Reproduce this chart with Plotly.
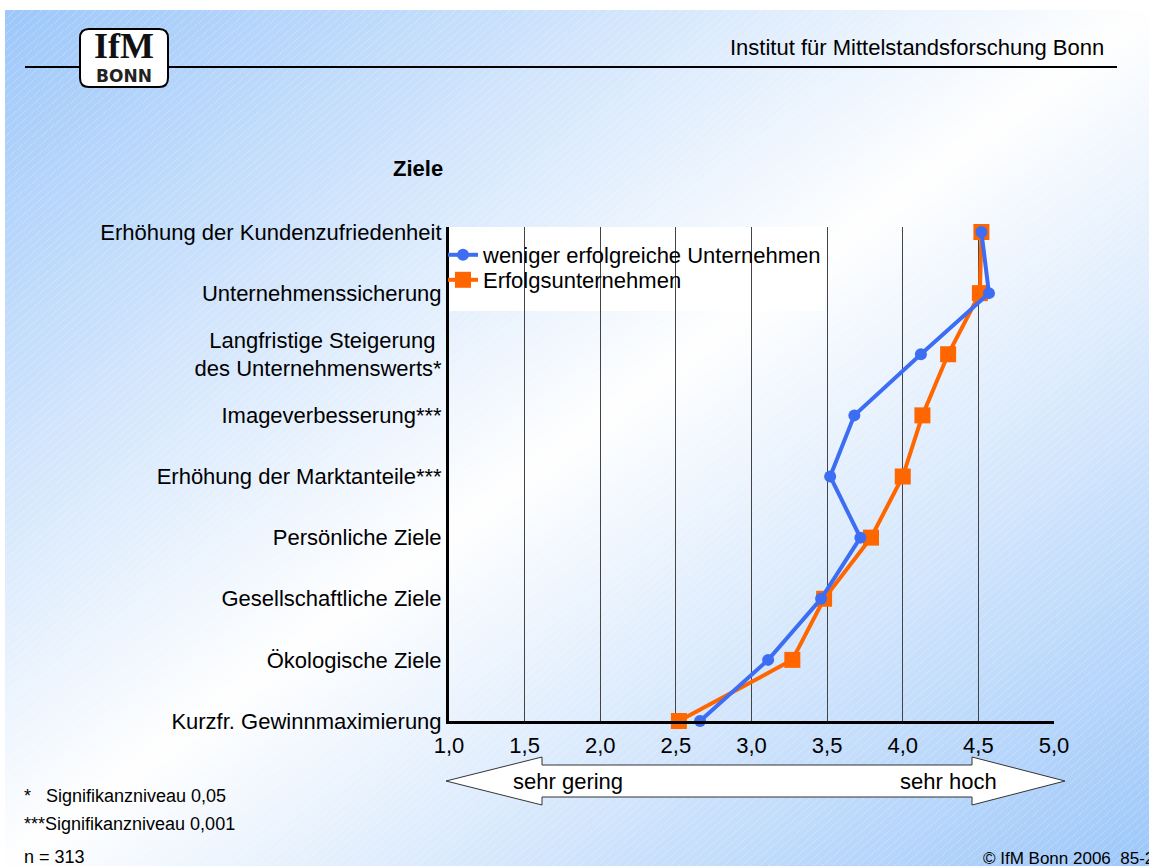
import base64
import struct
import zlib

import numpy as np
import plotly.graph_objects as go

# ---- data -------------------------------------------------------------
goals = [
    "Erhöhung der Kundenzufriedenheit",
    "Unternehmenssicherung",
    "Langfristige Steigerung <br>des Unternehmenswerts*",
    "Imageverbesserung***",
    "Erhöhung der Marktanteile***",
    "Persönliche Ziele",
    "Gesellschaftliche Ziele",
    "Ökologische Ziele",
    "Kurzfr. Gewinnmaximierung",
]
less_successful = [4.52, 4.57, 4.12, 3.68, 3.52, 3.72, 3.46, 3.11, 2.66]
successful = [4.52, 4.51, 4.30, 4.13, 4.00, 3.79, 3.48, 3.27, 2.52]
series_names = ["weniger erfolgreiche Unternehmen", "Erfolgsunternehmen"]
x_ticks = [1.0, 1.5, 2.0, 2.5, 3.0, 3.5, 4.0, 4.5, 5.0]

# ---- page geometry (pixels) --------------------------------------------
W, H = 1149, 866
L, R, T, B = 449, 1054, 227, 721
PW, PH = R - L, B - T
FONT = "Liberation Sans, Arial, sans-serif"
BLUE = "#3d6df2"
ORANGE = "#ff6600"


def px(x):
    return (x - L) / PW


def py(y):
    return (B - y) / PH


def background_png():
    """Diagonal white/blue slide background with faint hatch lines."""
    yy, xx = np.mgrid[0:H, 0:W].astype(float)
    sx, sy = xx - 5, yy - 10
    t = sx / (W - 5) + sy / (H - 10)
    a = np.clip(np.abs(t - 1.0), 0, 1)[..., None]
    blue = np.array([158.0, 200.0, 250.0])
    img = 255 + (blue - 255) * a
    hatch = ((sx + 1.15 * sy) % 9) < 1
    img[hatch] = img[hatch] * 0.75 + 255 * 0.25
    img[(sx < 0) | (sy < 0)] = 255
    img = img.astype(np.uint8)
    raw = b"".join(b"\x00" + row.tobytes() for row in img)

    def chunk(tag, data):
        c = struct.pack(">I", len(data)) + tag + data
        return c + struct.pack(">I", zlib.crc32(tag + data) & 0xFFFFFFFF)

    png = b"\x89PNG\r\n\x1a\n"
    png += chunk(b"IHDR", struct.pack(">IIBBBBB", W, H, 8, 2, 0, 0, 0))
    png += chunk(b"IDAT", zlib.compress(raw, 9))
    png += chunk(b"IEND", b"")
    return "data:image/png;base64," + base64.b64encode(png).decode()


def round_rect(x0, y0, x1, y1, r):
    pts = [
        ("M", x0 + r, y0), ("L", x1 - r, y0), ("Q", x1, y0, x1, y0 + r),
        ("L", x1, y1 - r), ("Q", x1, y1, x1 - r, y1), ("L", x0 + r, y1),
        ("Q", x0, y1, x0, y1 - r), ("L", x0, y0 + r), ("Q", x0, y0, x0 + r, y0),
    ]
    out = []
    for p in pts:
        cmd, coords = p[0], p[1:]
        xy = [f"{px(coords[i])},{py(coords[i + 1])}" for i in range(0, len(coords), 2)]
        out.append(cmd + " ".join(xy))
    return " ".join(out) + " Z"


def poly(points):
    return "M" + " L".join(f"{px(x)},{py(y)}" for x, y in points) + " Z"


fig = go.Figure()

# orange first so the blue line sits on top; each series gets its own legend box
fig.add_trace(go.Scatter(
    x=successful, y=goals, name=series_names[1], mode="lines+markers",
    line=dict(color=ORANGE, width=4),
    marker=dict(symbol="square", size=16, color=ORANGE),
    cliponaxis=False, legend="legend2",
))
fig.add_trace(go.Scatter(
    x=less_successful, y=goals, name=series_names[0], mode="lines+markers",
    line=dict(color=BLUE, width=4),
    marker=dict(symbol="circle", size=12, color=BLUE),
    cliponaxis=False, legend="legend",
))

shapes = [
    # white box behind the legend hides the gridlines
    dict(type="rect", xref="x", yref="paper", x0=1.0, x1=3.485, y0=py(311), y1=1,
         fillcolor="white", line_width=0, layer="between"),
    # header rule and logo
    dict(type="line", xref="paper", yref="paper", x0=px(25), x1=px(1117),
         y0=py(67), y1=py(67), line=dict(color="black", width=2)),
    dict(type="path", xref="paper", yref="paper", path=round_rect(80, 29, 168, 87, 9),
         fillcolor="white", line=dict(color="black", width=2)),
    # double arrow under the axis
    dict(type="path", xref="paper", yref="paper",
         path=poly([(446, 781), (542, 757), (542, 765), (972, 765), (972, 757),
                    (1065, 781), (972, 805), (972, 797), (542, 797), (542, 805)]),
         fillcolor="white", line=dict(color="#333333", width=1)),
]


def note(text, x, y, size=22, xanchor="left", color="black", family=FONT, bold=False):
    if bold:
        text = f"<b>{text}</b>"
    return dict(text=text, xref="paper", yref="paper", x=px(x), y=py(y),
                xanchor=xanchor, yanchor="middle", showarrow=False,
                font=dict(size=size, color=color, family=family))


annotations = [
    note("IfM", 124, 46, size=36, xanchor="center", color="#111111",
         family="Liberation Serif, Times New Roman, serif", bold=True),
    note("BONN", 124, 76, size=17, xanchor="center", color="#222222",
         family="DejaVu Sans, sans-serif", bold=True),
    note("Institut für Mittelstandsforschung Bonn", 1106, 48, size=22, xanchor="right"),
    note("Ziele", 418, 168, size=22, xanchor="center", bold=True),
    note("sehr gering", 568, 781, size=22, xanchor="center"),
    note("sehr hoch", 948, 781, size=22, xanchor="center"),
    note("*", 22, 796, size=18),
    note("Signifikanzniveau 0,05", 44, 796, size=18),
    note("***Signifikanzniveau 0,001", 22, 824, size=18),
    note("n = 313", 22, 857, size=18),
    note("© IfM Bonn 2006  85-28", 981, 858, size=17),
]

legend_style = dict(xanchor="left", yanchor="top", bgcolor="rgba(0,0,0,0)",
                    font=dict(size=22), itemwidth=30)

fig.update_layout(
    width=W, height=H, autosize=False,
    margin=dict(l=L, r=W - R, t=T, b=H - B, pad=0),
    paper_bgcolor="white", plot_bgcolor="white",
    separators=",.",
    font=dict(family=FONT, size=22, color="black"),
    showlegend=True,
    legend=dict(x=px(443), y=py(234), **legend_style),
    legend2=dict(x=px(443), y=py(259), **legend_style),
    shapes=shapes,
    annotations=annotations,
    images=[dict(source=background_png(), xref="paper", yref="paper",
                 x=px(0), y=py(0), sizex=W / PW, sizey=H / PH,
                 xanchor="left", yanchor="top", sizing="stretch", layer="below")],
)

fig.update_xaxes(
    range=[1, 5], tickvals=x_ticks, tickformat=".1f",
    showgrid=True, gridcolor="#444444", gridwidth=1,
    showline=True, linecolor="black", linewidth=3, zeroline=False,
    ticks="", ticklabelstandoff=3, tickfont=dict(size=22),
)
fig.update_yaxes(
    type="category", categoryorder="array", categoryarray=goals[::-1],
    range=[0, 8 * PH / (B - 232)],
    showgrid=False, showline=True, linecolor="black", linewidth=3, zeroline=False,
    ticks="", ticklabelstandoff=0, tickfont=dict(size=22),
)

fig.write_html(
    "out.html",
    config={"displayModeBar": False},
    post_script="document.body.style.margin='0';document.body.style.overflow='hidden';",
)
